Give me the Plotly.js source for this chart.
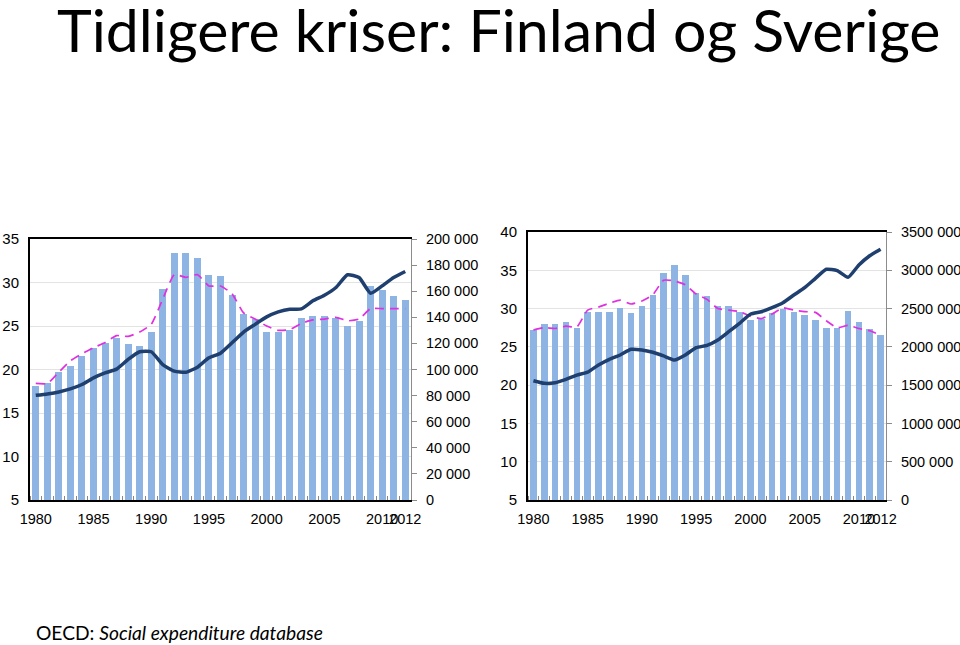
<!DOCTYPE html>
<html>
<head>
<meta charset="utf-8">
<script src="https://cdn.plot.ly/plotly-3.0.1.min.js"></script>
<style>
  html, body { margin: 0; padding: 0; background: #fff; }
  #chart { width: 960px; height: 645px; }
</style>
</head>
<body>
<div id="chart"></div>
<script>
// years shared by both panels
const years = [];
for (let y = 1980; y <= 2012; y++) years.push(y);

// Finland
const finBars = [18.1, 18.4, 19.7, 20.4, 21.5, 22.5, 23.0, 23.6, 22.9, 22.7, 24.3, 29.3, 33.4, 33.4, 32.8, 30.9,
  30.8, 28.6, 26.4, 25.8, 24.3, 24.3, 24.5, 25.9, 26.1, 26.1, 25.9, 25.0, 25.6, 29.6, 29.1, 28.4, 28.0];
const finDashed = [18.4, 18.4, 19.7, 21.0, 21.8, 22.5, 23.1, 23.9, 23.8, 24.3, 25.2, 28.1, 30.9, 30.6, 30.9, 29.6,
  29.6, 28.7, 26.5, 25.8, 25.0, 24.5, 24.6, 25.3, 25.7, 25.8, 26.0, 25.6, 25.8, 27.0, 27.0, 27.0, 27.0];
const finReal = [80200, 81300, 82800, 85100, 88500, 93600, 97400, 100300, 107700, 113600, 113600, 103800, 98700, 97900,
  101800, 109000, 112500, 120500, 128700, 134600, 140300, 144100, 146200, 146400, 152600, 156900, 162800, 172600,
  170500, 158500, 164100, 170500, 175100];

// Sverige
const sweBars = [27.2, 28.0, 28.0, 28.3, 27.4, 29.5, 29.5, 29.6, 30.1, 29.4, 30.3, 31.8, 34.7, 35.7, 34.4, 32.0,
  31.7, 30.4, 30.3, 29.6, 28.5, 28.7, 29.4, 29.9, 29.6, 29.2, 28.5, 27.4, 27.4, 29.7, 28.3, 27.3, 26.5];
const sweDashed = [27.2, 27.5, 27.4, 27.7, 27.6, 29.8, 30.2, 30.7, 31.1, 30.6, 31.0, 31.8, 33.7, 33.6, 33.1, 31.9,
  31.2, 30.0, 29.8, 29.6, 29.0, 28.7, 29.3, 30.1, 29.8, 29.6, 29.5, 28.4, 27.5, 27.8, 27.4, 27.1, 26.5];
const sweReal = [1558000, 1524000, 1532000, 1576000, 1632000, 1670000, 1763000, 1837000, 1894000, 1968000, 1959000,
  1929000, 1881000, 1828000, 1894000, 1989000, 2020000, 2090000, 2198000, 2307000, 2425000, 2459000, 2512000,
  2577000, 2677000, 2773000, 2895000, 3013000, 2995000, 2908000, 3069000, 3190000, 3274000];

const yearTicks = [1980, 1985, 1990, 1995, 2000, 2005, 2010, 2012];
const finRightTicks = [0, 20000, 40000, 60000, 80000, 100000, 120000, 140000, 160000, 180000, 200000];
const sweRightTicks = [0, 500000, 1000000, 1500000, 2000000, 2500000, 3000000, 3500000];

const spaced = v => v === 0 ? '0' : (v / 1000) + ' 000';

const barColor = '#8DB4E2';
const lineColor = '#1F3F6F';
const dashColor = '#E030E0';
const W = 960, H = 645;

function panel(xa, ya, yb, bars, dashed, real) {
  return [
    {type: 'bar', x: years, y: bars, xaxis: xa, yaxis: ya, marker: {color: barColor}, width: 0.6},
    {type: 'scatter', mode: 'lines', x: years, y: dashed, xaxis: xa, yaxis: ya,
      line: {color: dashColor, width: 1.7, dash: '9px,6px', shape: 'spline', smoothing: 0.5}},
    {type: 'scatter', mode: 'lines', x: years, y: real, xaxis: xa, yaxis: yb,
      line: {color: lineColor, width: 3.5, shape: 'spline', smoothing: 0.5}}
  ];
}

const data = [
  ...panel('x', 'y', 'y2', finBars, finDashed, finReal),
  ...panel('x2', 'y3', 'y4', sweBars, sweDashed, sweReal)
];

const tickFont = {family: 'Liberation Sans, Arial, sans-serif', size: 14.5, color: '#000'};

function xAxis(d0, d1, anchor) {
  return {
    domain: [d0 / W, d1 / W], anchor: anchor, range: [1979.5, 2012.5],
    tickmode: 'array', tickvals: yearTicks, ticktext: yearTicks.map(String), tickangle: 0,
    ticks: '', showgrid: false, zeroline: false,
    showline: true, linecolor: '#000', linewidth: 2, mirror: true,
    minor: {ticks: 'inside', tick0: 1979.5, dtick: 1, ticklen: 4, tickcolor: '#888', showgrid: false},
    ticklabelstandoff: 5, tickfont: tickFont, fixedrange: true
  };
}
function leftAxis(top, anchor, r, dt) {
  return {
    domain: [1 - 500 / H, 1 - top / H], anchor: anchor, range: r, dtick: dt, tick0: 0,
    showgrid: true, gridcolor: '#E3E3E3', gridwidth: 1, zeroline: false,
    showline: true, linecolor: '#000', linewidth: 2, ticks: '',
    ticklabelstandoff: 6, tickfont: Object.assign({}, tickFont, {size: 15})
  };
}
function rightAxis(over, anchor, r, tv) {
  return {
    overlaying: over, anchor: anchor, side: 'right', range: r,
    tickmode: 'array', tickvals: tv, ticktext: tv.map(spaced),
    showgrid: false, zeroline: false, showline: true, linecolor: '#8C8C8C', linewidth: 1,
    ticks: 'outside', ticklen: 5, tickcolor: '#8C8C8C', ticklabelstandoff: 6, tickfont: tickFont
  };
}

const layout = {
  width: W, height: H,
  margin: {l: 0, r: 0, t: 0, b: 0},
  paper_bgcolor: '#fff', plot_bgcolor: '#fff',
  showlegend: false, bargap: 0,
  xaxis: xAxis(30, 411, 'y'),
  yaxis: leftAxis(239, 'x', [5, 35], 5),
  yaxis2: rightAxis('y', 'x', [0, 200000], finRightTicks),
  xaxis2: xAxis(528, 886, 'y3'),
  yaxis3: leftAxis(232, 'x2', [5, 40], 5),
  yaxis4: rightAxis('y3', 'x2', [0, 3500000], sweRightTicks),
  annotations: [
    {text: 'Tidligere kriser: Finland og Sverige', xref: 'paper', yref: 'paper',
      x: 55 / W, y: 1 - 30 / H, xanchor: 'left', yanchor: 'middle', showarrow: false,
      font: {family: 'Lato, sans-serif', size: 59, color: '#000'}},
    {text: 'OECD: <i>Social expenditure database</i>', xref: 'paper', yref: 'paper',
      x: 34 / W, y: 1 - 632 / H, xanchor: 'left', yanchor: 'middle', showarrow: false,
      font: {family: 'Lato, sans-serif', size: 19.2, color: '#000'}}
  ]
};

Plotly.newPlot('chart', data, layout, {staticPlot: true});
</script>
</body>
</html>
